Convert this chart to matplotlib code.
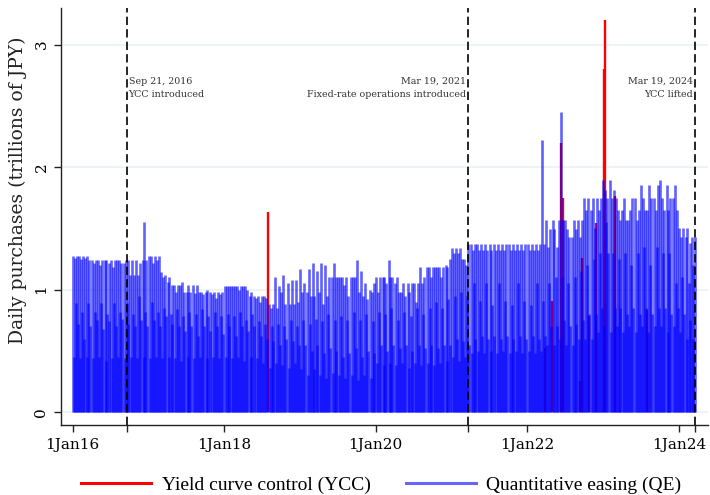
import numpy as np
import pandas as pd
import matplotlib
matplotlib.use("Agg")
import matplotlib.pyplot as plt
import matplotlib.dates as mdates
from matplotlib.lines import Line2D

# operation days within each month (purchase calendar)
op_days = [3, 8, 12, 17, 22, 26]

# QE daily purchases, trillions of JPY, 6 operations per month
qe_2016 = [
    [1.27, 0.45, 1.26, 0.89, 1.27, 0.72], [1.27, 0.44, 1.25, 0.82, 1.27, 0.60],
    [1.26, 0.45, 1.27, 0.89, 1.24, 0.70], [1.24, 0.44, 1.22, 0.82, 1.24, 0.75],
    [1.24, 0.45, 1.20, 0.89, 1.24, 0.68], [1.24, 0.42, 1.24, 0.80, 1.22, 0.74],
    [1.24, 0.44, 1.18, 0.89, 1.24, 0.70], [1.24, 0.45, 1.24, 0.82, 1.22, 0.76],
    [1.22, 0.44, 1.24, 0.89, 1.24, 0.72], [1.12, 0.45, 1.24, 0.80, 1.12, 0.70],
    [1.24, 0.44, 1.12, 0.95, 1.22, 0.75], [1.24, 0.45, 1.55, 0.82, 1.24, 0.70],
]
qe_2017 = [
    [1.27, 0.44, 1.27, 0.90, 1.22, 0.75], [1.27, 0.45, 1.24, 0.82, 1.27, 0.70],
    [1.14, 0.44, 1.10, 0.85, 1.12, 0.78], [1.06, 0.45, 1.10, 0.80, 1.04, 0.72],
    [1.04, 0.44, 0.98, 0.84, 1.04, 0.70], [1.04, 0.42, 1.06, 0.78, 0.98, 0.66],
    [0.98, 0.45, 1.04, 0.82, 0.98, 0.70], [1.04, 0.44, 0.97, 0.80, 1.04, 0.62],
    [0.98, 0.45, 0.98, 0.84, 0.96, 0.70], [0.98, 0.44, 1.00, 0.78, 0.98, 0.66],
    [0.96, 0.45, 0.98, 0.82, 0.93, 0.70], [0.98, 0.44, 0.96, 0.78, 0.98, 0.64],
]
qe_2018 = [
    [1.03, 0.45, 1.03, 0.80, 1.03, 0.70], [1.03, 0.44, 1.03, 0.78, 1.03, 0.62],
    [1.03, 0.45, 1.00, 0.82, 1.03, 0.70], [1.03, 0.42, 1.03, 0.75, 1.00, 0.66],
    [0.95, 0.45, 0.98, 0.80, 0.95, 0.70], [0.93, 0.44, 0.95, 0.74, 0.90, 0.62],
    [0.95, 0.40, 0.95, 0.72, 0.93, 0.60], [0.88, 0.36, 0.85, 0.70, 0.88, 0.58],
    [1.10, 0.40, 0.85, 0.72, 1.03, 0.55], [0.98, 0.38, 1.12, 0.70, 0.88, 0.60],
    [1.05, 0.36, 0.88, 0.75, 1.08, 0.58], [0.88, 0.40, 1.08, 0.70, 0.90, 0.55],
]
qe_2019 = [
    [1.17, 0.35, 0.98, 0.75, 1.05, 0.55], [0.98, 0.30, 1.17, 0.72, 0.95, 0.50],
    [1.22, 0.35, 0.95, 0.76, 1.15, 0.55], [0.98, 0.30, 1.22, 0.74, 0.88, 0.48],
    [1.20, 0.28, 0.95, 0.80, 1.10, 0.52], [1.10, 0.32, 1.22, 0.75, 1.10, 0.50],
    [1.10, 0.30, 1.10, 0.78, 1.10, 0.45], [1.04, 0.28, 1.10, 0.75, 0.95, 0.48],
    [1.10, 0.30, 1.10, 0.82, 1.10, 0.52], [1.24, 0.26, 0.98, 0.75, 1.15, 0.45],
    [0.95, 0.30, 1.05, 0.80, 0.92, 0.50], [1.00, 0.28, 0.98, 0.74, 1.05, 0.48],
]
qe_2020 = [
    [1.10, 0.40, 0.98, 0.82, 1.10, 0.55], [1.10, 0.38, 1.10, 0.80, 1.05, 0.50],
    [1.24, 0.40, 1.10, 0.85, 1.10, 0.55], [1.05, 0.38, 1.10, 0.75, 0.98, 0.52],
    [0.98, 0.40, 1.05, 0.82, 0.95, 0.55], [1.05, 0.36, 0.98, 0.78, 1.05, 0.50],
    [1.05, 0.40, 0.90, 0.85, 1.05, 0.55], [1.18, 0.38, 1.05, 0.80, 1.10, 0.52],
    [1.18, 0.40, 1.18, 0.85, 1.10, 0.55], [1.18, 0.38, 1.18, 0.90, 1.18, 0.52],
    [1.18, 0.40, 1.10, 0.85, 1.18, 0.55], [1.20, 0.42, 1.18, 0.92, 1.25, 0.55],
]
qe_2021 = [
    [1.34, 0.45, 1.30, 0.95, 1.34, 0.60], [1.30, 0.42, 1.34, 0.98, 1.25, 0.58],
    [1.25, 0.45, 1.20, 0.95, 1.37, 0.55], [1.37, 0.48, 1.32, 1.05, 1.37, 0.60],
    [1.37, 0.50, 1.32, 0.91, 1.37, 0.62], [1.32, 0.48, 1.37, 1.05, 1.32, 0.60],
    [1.37, 0.50, 1.32, 0.87, 1.37, 0.62], [1.32, 0.48, 1.37, 1.05, 1.32, 0.60],
    [1.37, 0.50, 1.32, 0.91, 1.37, 0.62], [1.37, 0.48, 1.32, 0.87, 1.37, 0.60],
    [1.32, 0.50, 1.37, 1.05, 1.32, 0.62], [1.37, 0.48, 1.32, 0.91, 1.37, 0.60],
]
qe_2022 = [
    [1.37, 0.50, 1.32, 0.87, 1.37, 0.62], [1.32, 0.48, 1.37, 1.05, 1.32, 0.60],
    [1.37, 0.50, 2.22, 0.91, 1.37, 0.62], [1.57, 0.55, 1.35, 1.05, 1.49, 0.70],
    [1.57, 0.55, 1.49, 1.10, 1.35, 0.70], [1.57, 0.60, 2.45, 1.10, 1.57, 0.75],
    [1.57, 0.55, 1.49, 1.05, 1.43, 0.70], [1.43, 0.55, 1.57, 1.10, 1.49, 0.72],
    [1.57, 0.60, 1.43, 1.15, 1.57, 0.75], [1.75, 0.60, 1.65, 1.20, 1.75, 0.80],
    [1.65, 0.60, 1.75, 1.25, 1.50, 0.80], [1.75, 0.65, 1.65, 1.30, 1.75, 0.85],
]
qe_2023 = [
    [1.89, 0.70, 1.81, 1.55, 1.75, 1.30], [1.89, 0.65, 1.75, 1.30, 1.81, 0.85],
    [1.75, 0.70, 1.65, 1.25, 1.57, 0.85], [1.65, 0.65, 1.75, 1.30, 1.57, 0.80],
    [1.57, 0.70, 1.65, 1.20, 1.75, 0.85], [1.75, 0.65, 1.57, 1.30, 1.65, 0.80],
    [1.85, 0.70, 1.75, 1.35, 1.65, 0.85], [1.65, 0.65, 1.85, 1.20, 1.75, 0.80],
    [1.75, 0.70, 1.65, 1.35, 1.85, 0.85], [1.89, 0.70, 1.75, 1.30, 1.65, 0.85],
    [1.85, 0.65, 1.65, 1.30, 1.75, 0.80], [1.75, 0.70, 1.85, 1.05, 1.65, 0.85],
]
qe_2024 = [
    [1.50, 0.65, 1.43, 1.10, 1.50, 0.80], [1.43, 0.60, 1.50, 1.05, 1.38, 0.75],
    [1.43, 0.60, 1.20, 1.43],
]
qe_years = [2016, 2017, 2018, 2019, 2020, 2021, 2022, 2023, 2024]
qe_all = [qe_2016, qe_2017, qe_2018, qe_2019, qe_2020, qe_2021, qe_2022, qe_2023, qe_2024]

# YCC fixed-rate purchase operations
ycc_dates = ["2018-07-30", "2022-03-28", "2022-04-28", "2022-06-14", "2022-06-22",
             "2022-09-13", "2022-09-20", "2022-10-25", "2022-11-29", "2023-01-05",
             "2023-01-12", "2023-03-01", "2023-07-31"]
ycc_values = [1.63, 0.52, 0.91, 2.20, 1.75, 0.25, 1.26, 0.78, 1.54, 2.80, 3.20, 1.76, 0.83]

events = ["2016-09-21", "2021-03-19", "2024-03-19"]
event_text = [("Sep 21, 2016", "YCC introduced"),
              ("Mar 19, 2021", "Fixed-rate operations introduced"),
              ("Mar 19, 2024", "YCC lifted")]

# build QE series
qe_d, qe_v = [], []
for yr, months in zip(qe_years, qe_all):
    for m, vals in enumerate(months):
        for day, v in zip(op_days, vals):
            qe_d.append(pd.Timestamp(yr, m + 1, day))
            qe_v.append(v)
qe_d = pd.to_datetime(qe_d)
ycc_d = pd.to_datetime(ycc_dates)

serif = "DejaVu Serif"
fig = plt.figure(figsize=(7.1, 4.95), dpi=100)
ax = fig.add_axes([61 / 710, 1 - 425 / 495, (708 - 61) / 710, (425 - 8) / 495])

for y in [0, 1, 2, 3]:
    ax.axhline(y, color="#eaf2f3", lw=1.2, zorder=0)

ax.vlines(ycc_d, 0, ycc_values, color="red", lw=1.7, zorder=2)
# each spike drawn on its own so overlapping spikes darken
for d, v in zip(qe_d, qe_v):
    ax.vlines(d, 0, v, color="blue", alpha=0.62, lw=1.9, zorder=3)

for ev in events:
    ax.axvline(pd.Timestamp(ev), color="black", lw=1.2, ls=(0, (5, 2.5)), zorder=4)

# annotations
ax.text(pd.Timestamp(events[0]) + pd.Timedelta(days=6), 2.70, event_text[0][0],
        ha="left", va="center", fontsize=6.8, family=serif, color="#333333")
ax.text(pd.Timestamp(events[0]) + pd.Timedelta(days=6), 2.59, event_text[0][1],
        ha="left", va="center", fontsize=6.8, family=serif, color="#333333")
for ev, (t1, t2) in zip(events[1:], event_text[1:]):
    ax.text(pd.Timestamp(ev) - pd.Timedelta(days=8), 2.70, t1,
            ha="right", va="center", fontsize=6.8, family=serif, color="#333333")
    ax.text(pd.Timestamp(ev) - pd.Timedelta(days=8), 2.59, t2,
            ha="right", va="center", fontsize=6.8, family=serif, color="#333333")

ax.set_xlim(pd.Timestamp("2015-11-06"), pd.Timestamp("2024-05-21"))
ax.set_ylim(-0.106, 3.298)

tick_dates = pd.to_datetime(["2016-01-01", "2018-01-01", "2020-01-01", "2022-01-01", "2024-01-01"])
ax.set_xticks(tick_dates)
ax.set_xticklabels(["1Jan16", "1Jan18", "1Jan20", "1Jan22", "1Jan24"], family=serif, fontsize=11)
ax.set_xticks(pd.to_datetime(events), minor=True)
ax.tick_params(axis="x", which="both", length=5, width=1, color="#222222", pad=4)
ax.set_yticks([0, 1, 2, 3])
ax.set_yticklabels(["0", "1", "2", "3"], family=serif, fontsize=11, rotation=90, va="center")
ax.tick_params(axis="y", length=5, width=1, color="#222222", pad=4)

for s in ["top", "right"]:
    ax.spines[s].set_visible(False)
for s in ["left", "bottom"]:
    ax.spines[s].set_color("#222222")
    ax.spines[s].set_linewidth(1.0)

fig.text(18 / 710, 1 - 190 / 495, "Daily purchases (trillions of JPY)", rotation=90,
         ha="center", va="center", family=serif, fontsize=13.5, color="#222222")

handles = [Line2D([], [], color="red", lw=2.2),
           Line2D([], [], color="blue", alpha=0.6, lw=2.2)]
fig.legend(handles, ["Yield curve control (YCC)", "Quantitative easing (QE)"],
           loc="center", bbox_to_anchor=(0.537, 0.02), ncol=2, frameon=False,
           prop={"family": "Liberation Serif", "size": 14},
           handlelength=3.6, handletextpad=0.55, columnspacing=1.8)

fig.savefig("out.png", dpi=100)
